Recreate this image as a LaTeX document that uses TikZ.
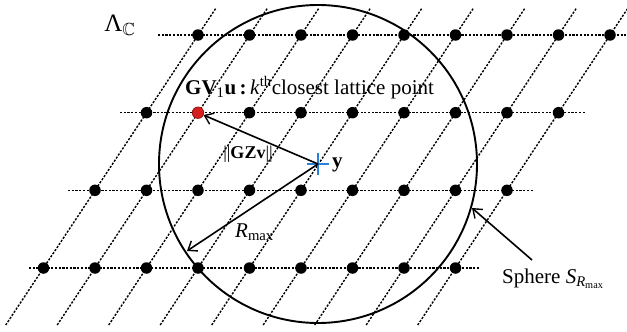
\documentclass[tikz,border=0pt]{standalone}
\usepackage{fontspec}
\usepackage{amssymb}
\setmainfont{Liberation Serif}
\usetikzlibrary{arrows.meta}
\definecolor{crossblue}{RGB}{40,130,220}
\definecolor{dotred}{RGB}{215,30,30}
\tikzset{
  latline/.style={line width=1.4pt, dash pattern=on 2.2pt off 1.5pt},
  latdot/.style={circle, fill=black, inner sep=0pt, minimum size=11.5pt},
  reddot/.style={circle, fill=dotred, draw=dotred!70!black, line width=0.6pt, inner sep=0pt, minimum size=11.5pt},
  arr/.style={line width=1.6pt, -{Straight Barb[length=8pt,width=12pt,line width=1.4pt]}},
  lbl/.style={inner sep=0pt, font=\fontsize{21}{24}\selectfont},
}
\begin{document}
\begin{tikzpicture}[x=1pt,y=-1pt]
\useasboundingbox (0,0) rectangle (627,332);
% slanted lattice lines
\foreach \k in {0,...,8}{
  \coordinate (lt\k) at ({216+51.5*\k},8);
  \coordinate (lb\k) at ({5.7+51.5*\k},325);
  \draw[latline] (lb\k) -- (lt\k);
}
% horizontal lattice lines
\foreach \r/\yy/\xa/\xb in {1/35/158/627, 2/112.7/120/585, 3/190.3/68/533, 4/268/29/480}{
  \coordinate (ha\r) at (\xa,\yy);
  \coordinate (hb\r) at (\xb,\yy);
  \draw[latline] (ha\r) -- (hb\r);
}
% sphere
\coordinate (y) at (318,164);
\draw[line width=1.9pt] (y) circle[radius=159];
% lattice points
\foreach \r/\yy/\xo in {1/35/198, 2/112.7/146.5, 3/190.3/95, 4/268/43.5}{
  \foreach \k in {0,...,8}{
    \node[latdot] (d\r\k) at ({\xo+51.5*\k},\yy) {};
  }
}
\node[reddot] (red) at (198,112.7) {};
% blue cross at y
\draw[crossblue, line width=1.6pt] ([xshift=-11pt]y) -- ([xshift=11pt]y)
  ([yshift=-11pt]y) -- ([yshift=11pt]y);
% arrows
\draw[arr] (y) -- (red);
\coordinate (rm) at (187,251);
\draw[arr] (y) -- (rm);
\coordinate (st) at (532,260);
\coordinate (sh) at (472,208);
\draw[arr] (st) -- (sh);
% labels
\node[lbl, font=\fontsize{25}{28}\selectfont] (lam) at (120,25) {Λ\textsubscript{$\mathbb{C}$}};
\node[lbl, anchor=base west] (klab) at (185,94.5) {\textbf{GV}\textsubscript{1}\textbf{u\,:\,}\textit{k}\textsuperscript{th}closest lattice point};
\node[lbl, font=\fontsize{18}{20}\selectfont] (gzv) at (248,154) {||\textbf{GZv}||};
\node[lbl, anchor=west] (ylab) at (332,165) {\textbf{y}};
\node[lbl, anchor=base west] (rlab) at (235,237) {\textit{R}\textsubscript{max}};
\node[lbl, anchor=base west] (slab) at (502,283) {Sphere \textit{S}\textsubscript{\textit{R}\textsubscript{max}}};
\end{tikzpicture}
\end{document}
